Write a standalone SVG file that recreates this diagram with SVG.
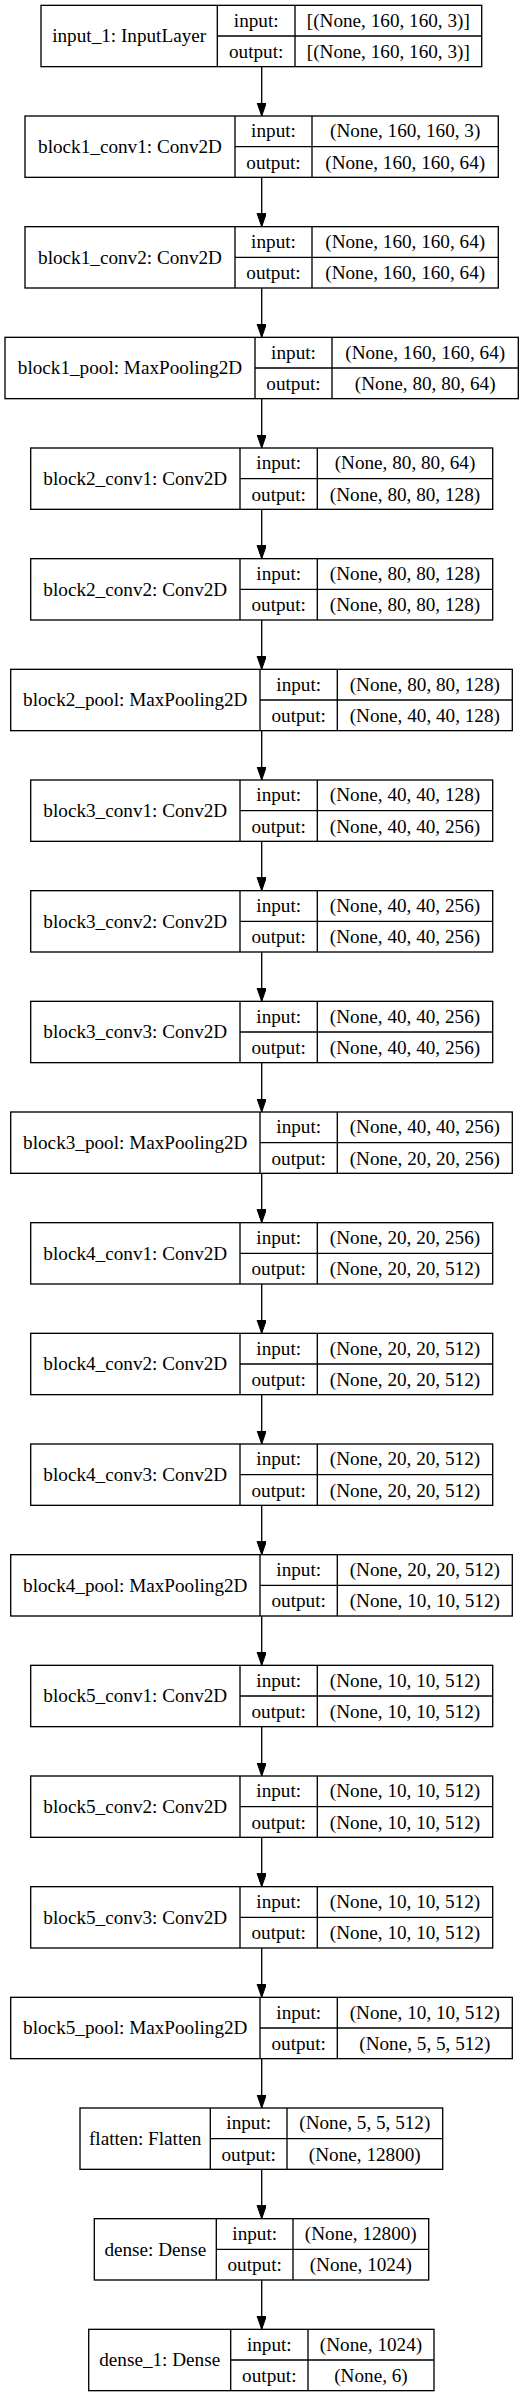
<svg xmlns="http://www.w3.org/2000/svg" width="525" height="2397" viewBox="0 0 525 2397">
<style>
.b{fill:#fff;stroke:#000;stroke-width:1.33}
.l{stroke:#000;stroke-width:1.33;fill:none}
text{font-family:"Liberation Serif","Times New Roman",serif;font-size:19.2px;fill:#000;text-anchor:middle}
</style>
<defs>
<marker id="ah" markerUnits="userSpaceOnUse" markerWidth="15" markerHeight="11" refX="13.33" refY="4.67" orient="auto">
<path d="M0,0 L13.33,4.67 L0,9.33 z" fill="#000" stroke="#000" stroke-width="1"/>
</marker>
</defs>
<rect width="525" height="2397" fill="#fff"/>
<g id="edges" class="l" marker-end="url(#ah)">
<line x1="261.7" y1="66.67" x2="261.7" y2="116"/>
<line x1="261.7" y1="177.33" x2="261.7" y2="226.67"/>
<line x1="261.7" y1="288" x2="261.7" y2="337.33"/>
<line x1="261.7" y1="398.67" x2="261.7" y2="448"/>
<line x1="261.7" y1="509.33" x2="261.7" y2="558.67"/>
<line x1="261.7" y1="620" x2="261.7" y2="669.33"/>
<line x1="261.7" y1="730.67" x2="261.7" y2="780"/>
<line x1="261.7" y1="841.33" x2="261.7" y2="890.67"/>
<line x1="261.7" y1="952" x2="261.7" y2="1001.33"/>
<line x1="261.7" y1="1062.67" x2="261.7" y2="1112"/>
<line x1="261.7" y1="1173.33" x2="261.7" y2="1222.67"/>
<line x1="261.7" y1="1284" x2="261.7" y2="1333.33"/>
<line x1="261.7" y1="1394.67" x2="261.7" y2="1444"/>
<line x1="261.7" y1="1505.33" x2="261.7" y2="1554.67"/>
<line x1="261.7" y1="1616" x2="261.7" y2="1665.33"/>
<line x1="261.7" y1="1726.67" x2="261.7" y2="1776"/>
<line x1="261.7" y1="1837.33" x2="261.7" y2="1886.67"/>
<line x1="261.7" y1="1948" x2="261.7" y2="1997.33"/>
<line x1="261.7" y1="2058.67" x2="261.7" y2="2108"/>
<line x1="261.7" y1="2169.33" x2="261.7" y2="2218.67"/>
<line x1="261.7" y1="2280" x2="261.7" y2="2329.33"/>
</g>

<g id="input_1" transform="translate(0,5.33)">
<rect class="b" x="41" y="0" width="440.7" height="61.33"/>
<path class="l" d="M217.3,0V61.33M295,0V61.33M217.3,30.67H481.7"/>
<text x="129.2" y="37">input_1: InputLayer</text>
<text x="256.2" y="21.3">input:</text>
<text x="256.2" y="52.5">output:</text>
<text x="388.3" y="21.3">[(None, 160, 160, 3)]</text>
<text x="388.3" y="52.5">[(None, 160, 160, 3)]</text>
</g>

<g id="block1_conv1" transform="translate(0,116)">
<rect class="b" x="25" y="0" width="473.3" height="61.33"/>
<path class="l" d="M235,0V61.33M312,0V61.33M235,30.67H498.3"/>
<text x="130" y="37">block1_conv1: Conv2D</text>
<text x="273.5" y="21.3">input:</text>
<text x="273.5" y="52.5">output:</text>
<text x="405.2" y="21.3">(None, 160, 160, 3)</text>
<text x="405.2" y="52.5">(None, 160, 160, 64)</text>
</g>

<g id="block1_conv2" transform="translate(0,226.67)">
<rect class="b" x="25" y="0" width="473.3" height="61.33"/>
<path class="l" d="M235,0V61.33M312,0V61.33M235,30.67H498.3"/>
<text x="130" y="37">block1_conv2: Conv2D</text>
<text x="273.5" y="21.3">input:</text>
<text x="273.5" y="52.5">output:</text>
<text x="405.2" y="21.3">(None, 160, 160, 64)</text>
<text x="405.2" y="52.5">(None, 160, 160, 64)</text>
</g>

<g id="block1_pool" transform="translate(0,337.33)">
<rect class="b" x="5" y="0" width="513.3" height="61.33"/>
<path class="l" d="M255,0V61.33M332,0V61.33M255,30.67H518.3"/>
<text x="130" y="37">block1_pool: MaxPooling2D</text>
<text x="293.5" y="21.3">input:</text>
<text x="293.5" y="52.5">output:</text>
<text x="425.2" y="21.3">(None, 160, 160, 64)</text>
<text x="425.2" y="52.5">(None, 80, 80, 64)</text>
</g>

<g id="block2_conv1" transform="translate(0,448)">
<rect class="b" x="30.7" y="0" width="462" height="61.33"/>
<path class="l" d="M240,0V61.33M317.3,0V61.33M240,30.67H492.7"/>
<text x="135.3" y="37">block2_conv1: Conv2D</text>
<text x="278.7" y="21.3">input:</text>
<text x="278.7" y="52.5">output:</text>
<text x="405" y="21.3">(None, 80, 80, 64)</text>
<text x="405" y="52.5">(None, 80, 80, 128)</text>
</g>

<g id="block2_conv2" transform="translate(0,558.67)">
<rect class="b" x="30.7" y="0" width="462" height="61.33"/>
<path class="l" d="M240,0V61.33M317.3,0V61.33M240,30.67H492.7"/>
<text x="135.3" y="37">block2_conv2: Conv2D</text>
<text x="278.7" y="21.3">input:</text>
<text x="278.7" y="52.5">output:</text>
<text x="405" y="21.3">(None, 80, 80, 128)</text>
<text x="405" y="52.5">(None, 80, 80, 128)</text>
</g>

<g id="block2_pool" transform="translate(0,669.33)">
<rect class="b" x="10.7" y="0" width="501.6" height="61.33"/>
<path class="l" d="M260,0V61.33M337.3,0V61.33M260,30.67H512.3"/>
<text x="135.3" y="37">block2_pool: MaxPooling2D</text>
<text x="298.7" y="21.3">input:</text>
<text x="298.7" y="52.5">output:</text>
<text x="424.8" y="21.3">(None, 80, 80, 128)</text>
<text x="424.8" y="52.5">(None, 40, 40, 128)</text>
</g>

<g id="block3_conv1" transform="translate(0,780)">
<rect class="b" x="30.7" y="0" width="462" height="61.33"/>
<path class="l" d="M240,0V61.33M317.3,0V61.33M240,30.67H492.7"/>
<text x="135.3" y="37">block3_conv1: Conv2D</text>
<text x="278.7" y="21.3">input:</text>
<text x="278.7" y="52.5">output:</text>
<text x="405" y="21.3">(None, 40, 40, 128)</text>
<text x="405" y="52.5">(None, 40, 40, 256)</text>
</g>

<g id="block3_conv2" transform="translate(0,890.67)">
<rect class="b" x="30.7" y="0" width="462" height="61.33"/>
<path class="l" d="M240,0V61.33M317.3,0V61.33M240,30.67H492.7"/>
<text x="135.3" y="37">block3_conv2: Conv2D</text>
<text x="278.7" y="21.3">input:</text>
<text x="278.7" y="52.5">output:</text>
<text x="405" y="21.3">(None, 40, 40, 256)</text>
<text x="405" y="52.5">(None, 40, 40, 256)</text>
</g>

<g id="block3_conv3" transform="translate(0,1001.33)">
<rect class="b" x="30.7" y="0" width="462" height="61.33"/>
<path class="l" d="M240,0V61.33M317.3,0V61.33M240,30.67H492.7"/>
<text x="135.3" y="37">block3_conv3: Conv2D</text>
<text x="278.7" y="21.3">input:</text>
<text x="278.7" y="52.5">output:</text>
<text x="405" y="21.3">(None, 40, 40, 256)</text>
<text x="405" y="52.5">(None, 40, 40, 256)</text>
</g>

<g id="block3_pool" transform="translate(0,1112)">
<rect class="b" x="10.7" y="0" width="501.6" height="61.33"/>
<path class="l" d="M260,0V61.33M337.3,0V61.33M260,30.67H512.3"/>
<text x="135.3" y="37">block3_pool: MaxPooling2D</text>
<text x="298.7" y="21.3">input:</text>
<text x="298.7" y="52.5">output:</text>
<text x="424.8" y="21.3">(None, 40, 40, 256)</text>
<text x="424.8" y="52.5">(None, 20, 20, 256)</text>
</g>

<g id="block4_conv1" transform="translate(0,1222.67)">
<rect class="b" x="30.7" y="0" width="462" height="61.33"/>
<path class="l" d="M240,0V61.33M317.3,0V61.33M240,30.67H492.7"/>
<text x="135.3" y="37">block4_conv1: Conv2D</text>
<text x="278.7" y="21.3">input:</text>
<text x="278.7" y="52.5">output:</text>
<text x="405" y="21.3">(None, 20, 20, 256)</text>
<text x="405" y="52.5">(None, 20, 20, 512)</text>
</g>

<g id="block4_conv2" transform="translate(0,1333.33)">
<rect class="b" x="30.7" y="0" width="462" height="61.33"/>
<path class="l" d="M240,0V61.33M317.3,0V61.33M240,30.67H492.7"/>
<text x="135.3" y="37">block4_conv2: Conv2D</text>
<text x="278.7" y="21.3">input:</text>
<text x="278.7" y="52.5">output:</text>
<text x="405" y="21.3">(None, 20, 20, 512)</text>
<text x="405" y="52.5">(None, 20, 20, 512)</text>
</g>

<g id="block4_conv3" transform="translate(0,1444)">
<rect class="b" x="30.7" y="0" width="462" height="61.33"/>
<path class="l" d="M240,0V61.33M317.3,0V61.33M240,30.67H492.7"/>
<text x="135.3" y="37">block4_conv3: Conv2D</text>
<text x="278.7" y="21.3">input:</text>
<text x="278.7" y="52.5">output:</text>
<text x="405" y="21.3">(None, 20, 20, 512)</text>
<text x="405" y="52.5">(None, 20, 20, 512)</text>
</g>

<g id="block4_pool" transform="translate(0,1554.67)">
<rect class="b" x="10.7" y="0" width="501.6" height="61.33"/>
<path class="l" d="M260,0V61.33M337.3,0V61.33M260,30.67H512.3"/>
<text x="135.3" y="37">block4_pool: MaxPooling2D</text>
<text x="298.7" y="21.3">input:</text>
<text x="298.7" y="52.5">output:</text>
<text x="424.8" y="21.3">(None, 20, 20, 512)</text>
<text x="424.8" y="52.5">(None, 10, 10, 512)</text>
</g>

<g id="block5_conv1" transform="translate(0,1665.33)">
<rect class="b" x="30.7" y="0" width="462" height="61.33"/>
<path class="l" d="M240,0V61.33M317.3,0V61.33M240,30.67H492.7"/>
<text x="135.3" y="37">block5_conv1: Conv2D</text>
<text x="278.7" y="21.3">input:</text>
<text x="278.7" y="52.5">output:</text>
<text x="405" y="21.3">(None, 10, 10, 512)</text>
<text x="405" y="52.5">(None, 10, 10, 512)</text>
</g>

<g id="block5_conv2" transform="translate(0,1776)">
<rect class="b" x="30.7" y="0" width="462" height="61.33"/>
<path class="l" d="M240,0V61.33M317.3,0V61.33M240,30.67H492.7"/>
<text x="135.3" y="37">block5_conv2: Conv2D</text>
<text x="278.7" y="21.3">input:</text>
<text x="278.7" y="52.5">output:</text>
<text x="405" y="21.3">(None, 10, 10, 512)</text>
<text x="405" y="52.5">(None, 10, 10, 512)</text>
</g>

<g id="block5_conv3" transform="translate(0,1886.67)">
<rect class="b" x="30.7" y="0" width="462" height="61.33"/>
<path class="l" d="M240,0V61.33M317.3,0V61.33M240,30.67H492.7"/>
<text x="135.3" y="37">block5_conv3: Conv2D</text>
<text x="278.7" y="21.3">input:</text>
<text x="278.7" y="52.5">output:</text>
<text x="405" y="21.3">(None, 10, 10, 512)</text>
<text x="405" y="52.5">(None, 10, 10, 512)</text>
</g>

<g id="block5_pool" transform="translate(0,1997.33)">
<rect class="b" x="10.7" y="0" width="501.6" height="61.33"/>
<path class="l" d="M260,0V61.33M337.3,0V61.33M260,30.67H512.3"/>
<text x="135.3" y="37">block5_pool: MaxPooling2D</text>
<text x="298.7" y="21.3">input:</text>
<text x="298.7" y="52.5">output:</text>
<text x="424.8" y="21.3">(None, 10, 10, 512)</text>
<text x="424.8" y="52.5">(None, 5, 5, 512)</text>
</g>

<g id="flatten" transform="translate(0,2108)">
<rect class="b" x="80" y="0" width="362.7" height="61.33"/>
<path class="l" d="M210.3,0V61.33M287,0V61.33M210.3,30.67H442.7"/>
<text x="145.2" y="37">flatten: Flatten</text>
<text x="248.7" y="21.3">input:</text>
<text x="248.7" y="52.5">output:</text>
<text x="364.8" y="21.3">(None, 5, 5, 512)</text>
<text x="364.8" y="52.5">(None, 12800)</text>
</g>

<g id="dense" transform="translate(0,2218.67)">
<rect class="b" x="94.3" y="0" width="334.4" height="61.33"/>
<path class="l" d="M216.3,0V61.33M293,0V61.33M216.3,30.67H428.7"/>
<text x="155.3" y="37">dense: Dense</text>
<text x="254.7" y="21.3">input:</text>
<text x="254.7" y="52.5">output:</text>
<text x="360.8" y="21.3">(None, 12800)</text>
<text x="360.8" y="52.5">(None, 1024)</text>
</g>

<g id="dense_1" transform="translate(0,2329.33)">
<rect class="b" x="88.7" y="0" width="345.3" height="61.33"/>
<path class="l" d="M230.7,0V61.33M308,0V61.33M230.7,30.67H434"/>
<text x="159.7" y="37">dense_1: Dense</text>
<text x="269.3" y="21.3">input:</text>
<text x="269.3" y="52.5">output:</text>
<text x="371" y="21.3">(None, 1024)</text>
<text x="371" y="52.5">(None, 6)</text>
</g>
</svg>
